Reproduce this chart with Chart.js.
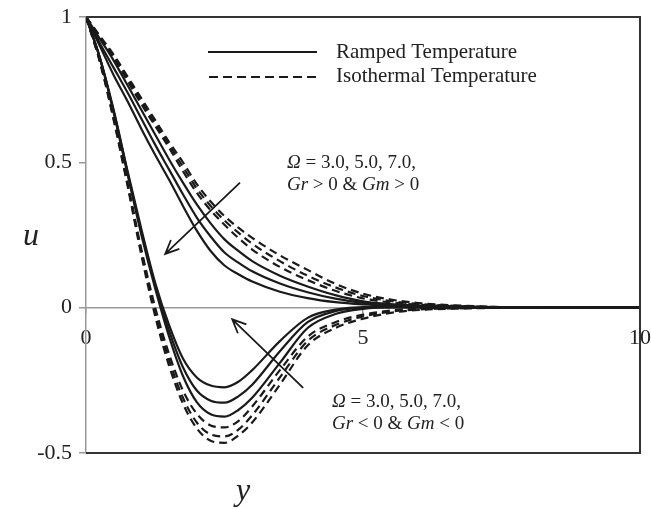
<!DOCTYPE html>
<html>
<head>
<meta charset="utf-8">
<script src="https://cdn.jsdelivr.net/npm/chart.js@4.4.1/dist/chart.umd.min.js"></script>
<style>
  html, body { margin: 0; padding: 0; background: #fff; }
  canvas { display: block; }
</style>
</head>
<body>
<canvas id="c" width="651" height="509"></canvas>
<script>
const yGrid = [0, 0.25, 0.5, 0.75, 1, 1.25, 1.5, 1.75, 2, 2.25, 2.5, 2.75, 3, 3.5, 4, 4.5, 5, 5.5, 6, 7, 8, 10];

// Gr > 0 & Gm > 0, ramped temperature (Omega = 3, 5, 7)
const rampUp3 = [1, 0.925, 0.85, 0.765, 0.68, 0.595, 0.51, 0.43, 0.355, 0.29, 0.235, 0.195, 0.16, 0.11, 0.073, 0.043, 0.022, 0.012, 0.007, 0.003, 0.001, 0];
const rampUp5 = [1, 0.91, 0.825, 0.74, 0.65, 0.56, 0.475, 0.39, 0.31, 0.245, 0.19, 0.155, 0.125, 0.083, 0.053, 0.031, 0.017, 0.009, 0.005, 0.002, 0.001, 0];
const rampUp7 = [1, 0.9, 0.8, 0.71, 0.615, 0.525, 0.44, 0.35, 0.265, 0.195, 0.145, 0.115, 0.09, 0.055, 0.033, 0.019, 0.011, 0.006, 0.003, 0.001, 0, 0];

// Gr > 0 & Gm > 0, isothermal temperature
const isoUp3 = [1, 0.935, 0.87, 0.795, 0.72, 0.645, 0.57, 0.5, 0.425, 0.365, 0.315, 0.275, 0.24, 0.18, 0.13, 0.082, 0.048, 0.028, 0.016, 0.005, 0.001, 0];
const isoUp5 = [1, 0.932, 0.865, 0.79, 0.71, 0.635, 0.56, 0.485, 0.41, 0.35, 0.3, 0.258, 0.22, 0.16, 0.11, 0.07, 0.04, 0.023, 0.013, 0.004, 0.001, 0];
const isoUp7 = [1, 0.93, 0.86, 0.78, 0.7, 0.625, 0.55, 0.47, 0.395, 0.335, 0.285, 0.24, 0.2, 0.14, 0.095, 0.058, 0.032, 0.018, 0.01, 0.003, 0.001, 0];

// Gr < 0 & Gm < 0, ramped temperature
const rampDn3 = [1, 0.86, 0.68, 0.47, 0.27, 0.085, -0.06, -0.175, -0.24, -0.268, -0.274, -0.255, -0.215, -0.115, -0.035, -0.007, 0.002, 0.002, 0.001, 0, 0, 0];
const rampDn5 = [1, 0.86, 0.675, 0.465, 0.26, 0.075, -0.08, -0.205, -0.285, -0.32, -0.327, -0.305, -0.265, -0.15, -0.05, -0.012, 0, 0.002, 0.001, 0, 0, 0];
const rampDn7 = [1, 0.86, 0.67, 0.46, 0.25, 0.065, -0.1, -0.235, -0.325, -0.367, -0.375, -0.352, -0.31, -0.19, -0.07, -0.022, -0.004, 0.001, 0.001, 0, 0, 0];

// Gr < 0 & Gm < 0, isothermal temperature
const isoDn3 = [1, 0.85, 0.655, 0.43, 0.2, 0, -0.16, -0.285, -0.365, -0.405, -0.412, -0.39, -0.34, -0.215, -0.1, -0.05, -0.024, -0.01, -0.004, -0.001, 0, 0];
const isoDn5 = [1, 0.848, 0.65, 0.425, 0.19, -0.015, -0.18, -0.31, -0.395, -0.436, -0.443, -0.42, -0.37, -0.24, -0.115, -0.06, -0.03, -0.014, -0.006, -0.001, 0, 0];
const isoDn7 = [1, 0.846, 0.645, 0.42, 0.18, -0.03, -0.2, -0.33, -0.415, -0.458, -0.465, -0.44, -0.395, -0.265, -0.13, -0.07, -0.038, -0.018, -0.008, -0.002, 0, 0];

const xTicks = [0, 5, 10];
const yTicks = [-0.5, 0, 0.5, 1];

const SERIF = '"Liberation Serif", "Times New Roman", serif';
const INK = '#1a1a1a';

const toPoints = (vals) => vals.map((v, i) => ({ x: yGrid[i], y: v }));

const line = (label, vals, dashed) => ({
  label: label,
  data: toPoints(vals),
  borderColor: INK,
  borderWidth: 2.2,
  borderDash: dashed ? [8, 5] : [],
  pointRadius: 0,
  fill: false,
  cubicInterpolationMode: 'monotone',
});

// text with italic pieces, e.g. [['Gr', true], [' > 0', false]]
const drawRich = (ctx, parts, x, y, size) => {
  let cx = x;
  parts.forEach(([txt, it]) => {
    ctx.font = (it ? 'italic ' : '') + size + 'px ' + SERIF;
    ctx.fillText(txt, cx, y);
    cx += ctx.measureText(txt).width;
  });
};

const arrow = (ctx, x0, y0, x1, y1) => {
  const ang = Math.atan2(y1 - y0, x1 - x0);
  const len = 15, spread = 0.42;
  ctx.beginPath();
  ctx.moveTo(x0, y0);
  ctx.lineTo(x1, y1);
  ctx.moveTo(x1 - len * Math.cos(ang - spread), y1 - len * Math.sin(ang - spread));
  ctx.lineTo(x1, y1);
  ctx.lineTo(x1 - len * Math.cos(ang + spread), y1 - len * Math.sin(ang + spread));
  ctx.stroke();
};

const decor = {
  id: 'decor',
  afterDraw(chart) {
    const { ctx, chartArea: a, scales: { x, y } } = chart;
    ctx.save();

    // dark frame on top, right and bottom
    ctx.strokeStyle = '#333';
    ctx.lineWidth = 2;
    ctx.setLineDash([]);
    ctx.beginPath();
    ctx.moveTo(a.left, a.top);
    ctx.lineTo(a.right, a.top);
    ctx.lineTo(a.right, a.bottom);
    ctx.lineTo(a.left, a.bottom);
    ctx.stroke();

    // legend
    ctx.strokeStyle = INK;
    ctx.lineWidth = 2.2;
    ctx.beginPath();
    ctx.moveTo(208, 52); ctx.lineTo(317, 52);
    ctx.stroke();
    ctx.setLineDash([9, 5]);
    ctx.beginPath();
    ctx.moveTo(209, 77); ctx.lineTo(317, 77);
    ctx.stroke();
    ctx.setLineDash([]);
    ctx.fillStyle = '#222';
    ctx.textBaseline = 'middle';
    ctx.textAlign = 'left';
    ctx.font = '21px ' + SERIF;
    ctx.fillText('Ramped Temperature', 336, 52);
    ctx.fillText('Isothermal Temperature', 336, 76);

    // annotations
    drawRich(ctx, [['Ω', true], [' = 3.0, 5.0, 7.0,', false]], 287, 163, 19);
    drawRich(ctx, [['Gr', true], [' > 0 & ', false], ['Gm', true], [' > 0', false]], 287, 185, 19);
    drawRich(ctx, [['Ω', true], [' = 3.0, 5.0, 7.0,', false]], 332, 402, 19);
    drawRich(ctx, [['Gr', true], [' < 0 & ', false], ['Gm', true], [' < 0', false]], 332, 424, 19);

    // arrows (drawn in data coordinates)
    ctx.strokeStyle = INK;
    ctx.lineWidth = 1.8;
    arrow(ctx, x.getPixelForValue(2.78), y.getPixelForValue(0.43),
               x.getPixelForValue(1.43), y.getPixelForValue(0.185));
    arrow(ctx, x.getPixelForValue(3.92), y.getPixelForValue(-0.276),
               x.getPixelForValue(2.64), y.getPixelForValue(-0.04));

    // axis titles
    ctx.textAlign = 'center';
    ctx.font = 'italic 32px ' + SERIF;
    ctx.fillText('u', 31, 237);
    ctx.fillText('y', 243, 492);
    ctx.restore();
  },
};

new Chart(document.getElementById('c').getContext('2d'), {
  type: 'line',
  data: {
    datasets: [
      line('Ramped Ω=3, Gr>0', rampUp3, false),
      line('Ramped Ω=5, Gr>0', rampUp5, false),
      line('Ramped Ω=7, Gr>0', rampUp7, false),
      line('Isothermal Ω=3, Gr>0', isoUp3, true),
      line('Isothermal Ω=5, Gr>0', isoUp5, true),
      line('Isothermal Ω=7, Gr>0', isoUp7, true),
      line('Ramped Ω=3, Gr<0', rampDn3, false),
      line('Ramped Ω=5, Gr<0', rampDn5, false),
      line('Ramped Ω=7, Gr<0', rampDn7, false),
      line('Isothermal Ω=3, Gr<0', isoDn3, true),
      line('Isothermal Ω=5, Gr<0', isoDn5, true),
      line('Isothermal Ω=7, Gr<0', isoDn7, true),
    ],
  },
  options: {
    responsive: false,
    animation: false,
    layout: { padding: { left: 0, top: 17, right: 11, bottom: 56 } },
    plugins: { legend: { display: false }, tooltip: { enabled: false } },
    scales: {
      x: {
        type: 'linear',
        position: { y: 0 },
        min: 0,
        max: 10,
        afterFit: (s) => { s.paddingLeft = 0; s.paddingRight = 0; },
        afterBuildTicks: (s) => { s.ticks = xTicks.map((v) => ({ value: v })); },
        ticks: { color: '#222', font: { family: SERIF, size: 22 }, padding: 12, maxRotation: 0 },
        grid: { drawOnChartArea: false, color: '#999', tickLength: 5, lineWidth: 1.5 },
        border: { color: '#999', width: 1.5 },
      },
      y: {
        type: 'linear',
        min: -0.5,
        max: 1,
        afterFit: (s) => { s.width = 86; s.paddingTop = 0; s.paddingBottom = 0; },
        afterBuildTicks: (s) => { s.ticks = yTicks.map((v) => ({ value: v })); },
        ticks: {
          color: '#222',
          font: { family: SERIF, size: 22 },
          padding: 7,
          callback: (v) => String(v),
        },
        grid: { drawOnChartArea: false, color: '#999', tickLength: 7, lineWidth: 1.5 },
        border: { color: '#999', width: 1.5 },
      },
    },
  },
  plugins: [decor],
});
</script>
</body>
</html>
